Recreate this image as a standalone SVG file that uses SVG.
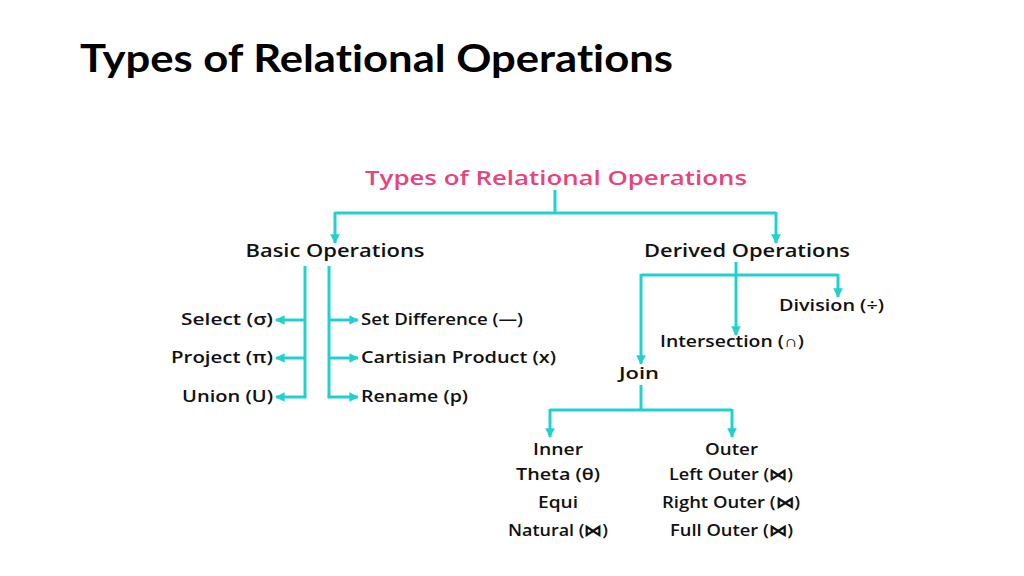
<svg xmlns="http://www.w3.org/2000/svg" width="1024" height="576" viewBox="0 0 1024 576">
<defs>
<marker id="ah" viewBox="0 0 10 10" refX="9" refY="5" markerWidth="3.2" markerHeight="3.2" orient="auto" markerUnits="strokeWidth">
<path d="M0,0 L10,5 L0,10 z" fill="#22d0d0"/>
</marker>
<style>
.t{font-family:"Open Sans","Noto Sans",sans-serif;font-weight:600;font-size:16px;fill:#111}
.h{font-family:"Open Sans","Noto Sans",sans-serif;font-weight:600;font-size:17.5px;fill:#111}
.c{fill:none;stroke:#22d0d0;stroke-width:3}
.a{fill:none;stroke:#22d0d0;stroke-width:3;marker-end:url(#ah)}
</style>
</defs>
<rect width="1024" height="576" fill="#fff"/>
<text x="80" y="72" font-family="Lato,'Liberation Sans',sans-serif" font-weight="700" font-size="38" fill="#000" style="font-variant-ligatures:none" textLength="593" lengthAdjust="spacingAndGlyphs">Types of Relational Operations</text>

<g id="connectors">
<path class="c" d="M555,190 V213"/>
<path class="c" d="M335,213 H776"/>
<path class="a" d="M335,212 V243"/>
<path class="a" d="M776,212 V243"/>
<path class="c" d="M305,266 V397"/>
<path class="c" d="M329,266 V397"/>
<path class="a" d="M305,320 H276"/>
<path class="a" d="M305,358 H276"/>
<path class="a" d="M306.5,397 H276"/>
<path class="a" d="M329,320 H358"/>
<path class="a" d="M329,358 H358"/>
<path class="a" d="M327.5,397 H358"/>
<path class="c" d="M736,262 V275"/>
<path class="c" d="M641,275 H838"/>
<path class="a" d="M838,274 V297"/>
<path class="a" d="M736,274 V335"/>
<path class="a" d="M641,274 V364"/>
<path class="c" d="M641,385 V410"/>
<path class="c" d="M550,410 H732"/>
<path class="a" d="M550,409 V437"/>
<path class="a" d="M732,409 V437"/>
</g>

<g id="root"><text x="556" y="185" text-anchor="middle" font-family="'Open Sans','Noto Sans',sans-serif" font-weight="600" font-size="20" fill="#e8437c" textLength="382" lengthAdjust="spacingAndGlyphs">Types of Relational Operations</text></g>
<g id="basic"><text class="h" x="335" y="257" text-anchor="middle" textLength="179" lengthAdjust="spacingAndGlyphs">Basic Operations</text></g>
<g id="derived"><text class="h" x="747" y="257" text-anchor="middle" textLength="206" lengthAdjust="spacingAndGlyphs">Derived Operations</text></g>
<g id="select"><text class="t" x="181" y="325" textLength="92" lengthAdjust="spacingAndGlyphs">Select (σ)</text></g>
<g id="project"><text class="t" x="171" y="363" textLength="102" lengthAdjust="spacingAndGlyphs">Project (π)</text></g>
<g id="union"><text class="t" x="182" y="402" textLength="91" lengthAdjust="spacingAndGlyphs">Union (U)</text></g>
<g id="setdiff"><text class="t" x="361" y="325" textLength="162" lengthAdjust="spacingAndGlyphs">Set Difference (—)</text></g>
<g id="cartesian"><text class="t" x="361" y="363" textLength="195" lengthAdjust="spacingAndGlyphs">Cartisian Product (x)</text></g>
<g id="rename"><text class="t" x="361" y="402" textLength="107" lengthAdjust="spacingAndGlyphs">Rename (p)</text></g>
<g id="division"><text class="t" x="779" y="311" textLength="105" lengthAdjust="spacingAndGlyphs">Division (÷)</text></g>
<g id="intersection"><text class="t" x="660" y="347" textLength="144" lengthAdjust="spacingAndGlyphs">Intersection (∩)</text></g>
<g id="join"><text class="t" x="619" y="379" textLength="40" lengthAdjust="spacingAndGlyphs">Join</text></g>
<g id="inner">
<text class="t" x="533" y="455" textLength="50" lengthAdjust="spacingAndGlyphs">Inner</text>
<text class="t" x="516" y="480" textLength="84" lengthAdjust="spacingAndGlyphs">Theta (θ)</text>
<text class="t" x="538" y="508" textLength="40" lengthAdjust="spacingAndGlyphs">Equi</text>
<text class="t" x="508" y="536" textLength="100" lengthAdjust="spacingAndGlyphs">Natural (⋈)</text>
</g>
<g id="outer">
<text class="t" x="705" y="455" textLength="53" lengthAdjust="spacingAndGlyphs">Outer</text>
<text class="t" x="669" y="480" textLength="124" lengthAdjust="spacingAndGlyphs">Left Outer (⋈)</text>
<text class="t" x="662" y="508" textLength="138" lengthAdjust="spacingAndGlyphs">Right Outer (⋈)</text>
<text class="t" x="670" y="536" textLength="123" lengthAdjust="spacingAndGlyphs">Full Outer (⋈)</text>
</g>
</svg>
